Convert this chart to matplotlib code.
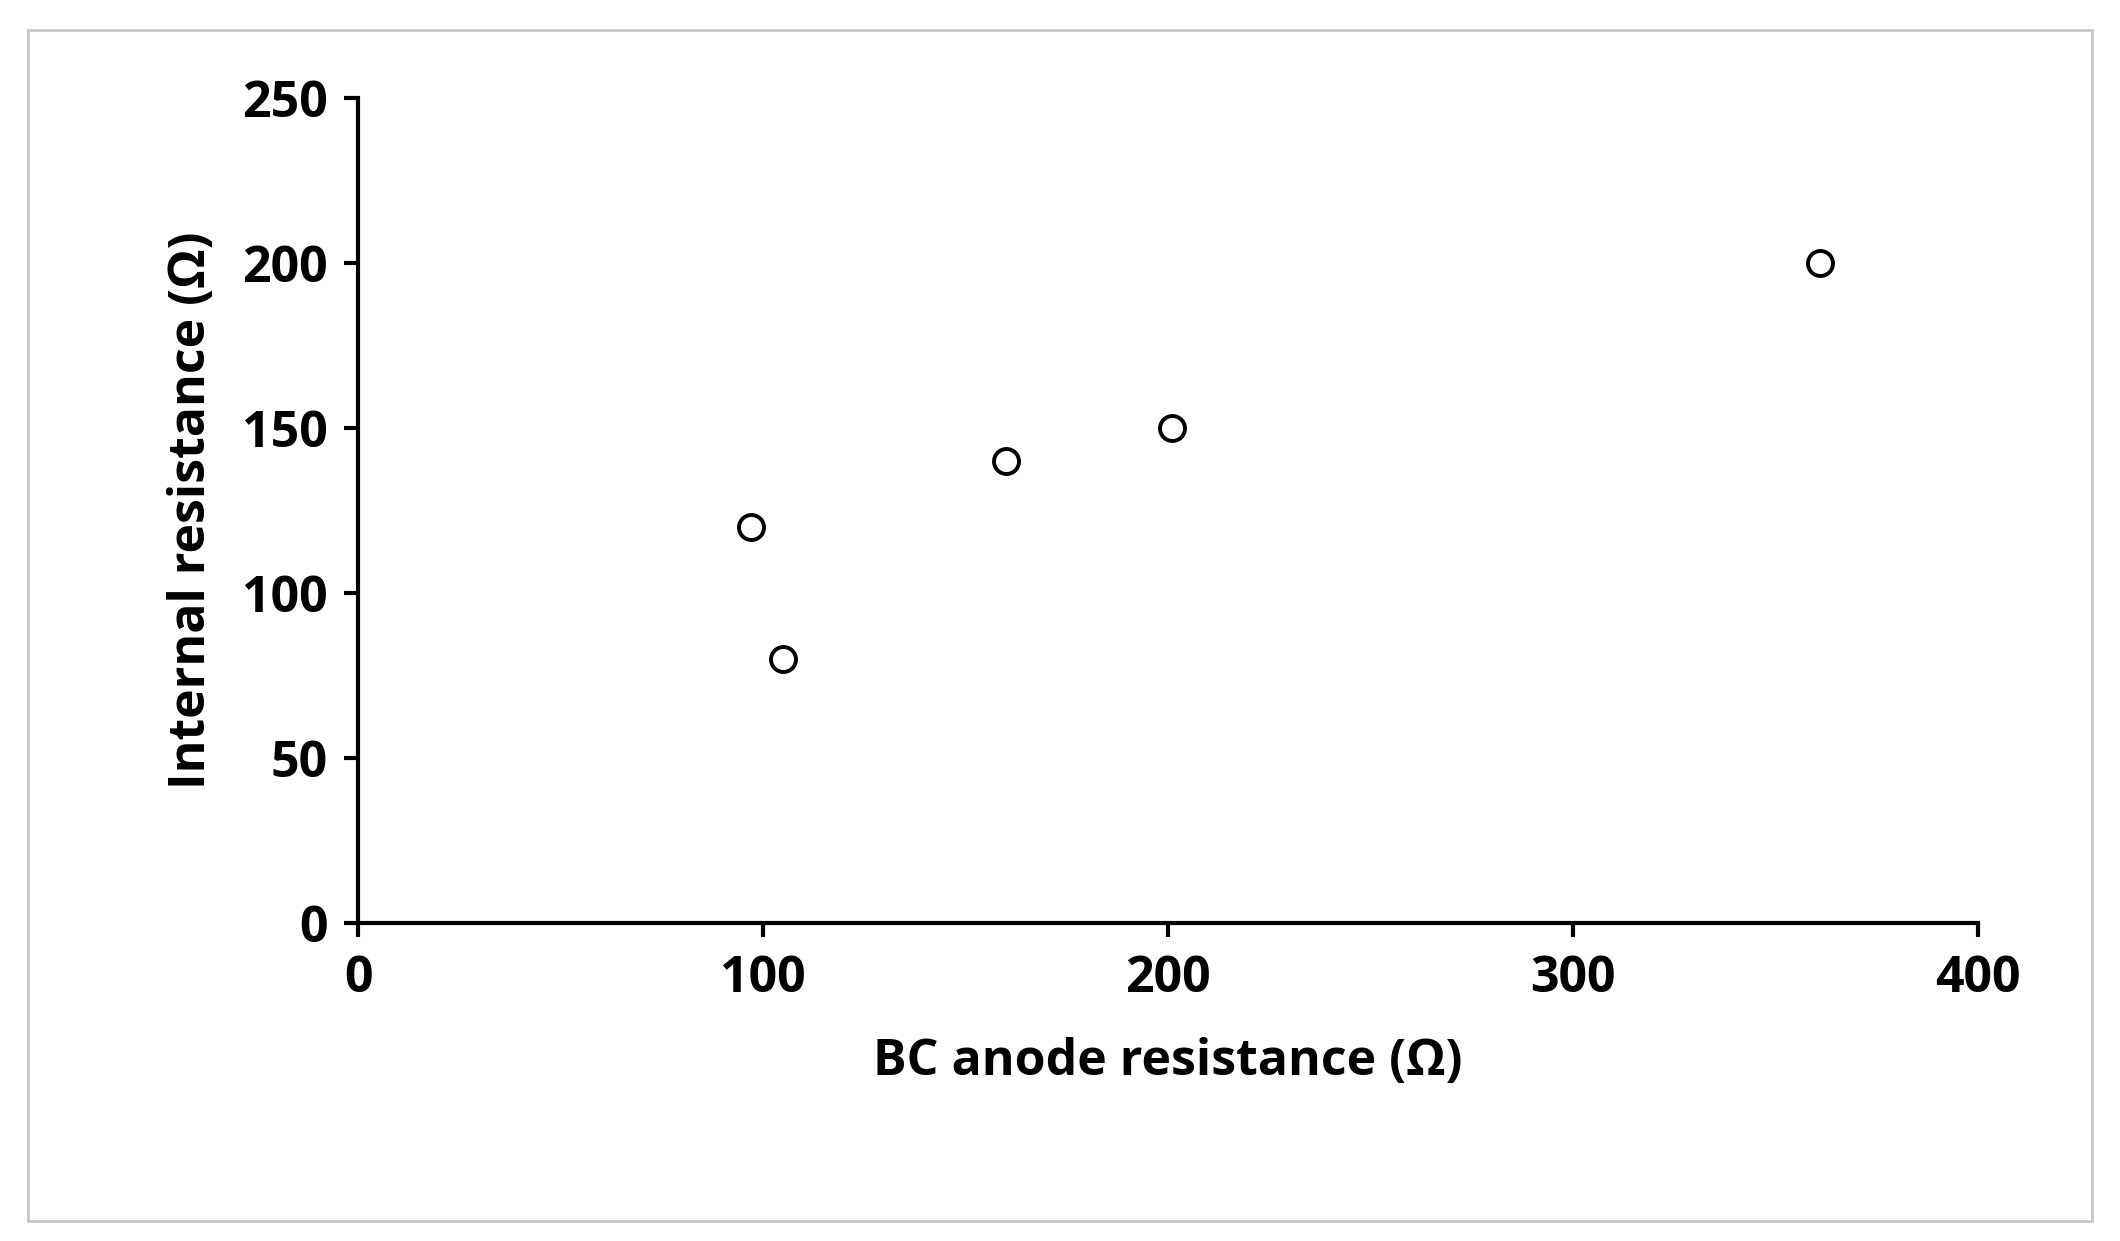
import matplotlib.pyplot as plt
from matplotlib.patches import Rectangle

plt.rcParams['font.family'] = ['Open Sans', 'DejaVu Sans']
plt.rcParams['font.weight'] = 'bold'

bc_anode = [97, 105, 160, 201, 361]
internal = [120, 80, 140, 150, 200]

fig = plt.figure(figsize=(21.2, 12.41), dpi=100)
ax = fig.add_axes([0.169, 0.256, 0.764, 0.665])

ax.plot(bc_anode, internal, 'o', markersize=18, markerfacecolor='white',
        markeredgecolor='black', markeredgewidth=2.8, clip_on=False)

ax.set_xlim(0, 400)
ax.set_ylim(0, 250)
ax.set_xticks([0, 100, 200, 300, 400])
ax.set_yticks([0, 50, 100, 150, 200, 250])
ax.spines['top'].set_visible(False)
ax.spines['right'].set_visible(False)
for s in ('left', 'bottom'):
    ax.spines[s].set_linewidth(3)
ax.tick_params(direction='out', length=10, width=3, labelsize=36, pad=12)
for lab in ax.get_xticklabels() + ax.get_yticklabels():
    lab.set_fontweight('bold')

ax.set_xlabel('BC anode resistance (Ω)', fontsize=36, fontweight='bold', labelpad=24)
ax.set_ylabel('Internal resistance (Ω)', fontsize=36, fontweight='bold', labelpad=18)

fig.patches.append(Rectangle((0.013, 0.016), 0.974, 0.96, transform=fig.transFigure,
                             fill=False, edgecolor='#c8c8c8', linewidth=2))

fig.savefig('out.png', dpi=100)
